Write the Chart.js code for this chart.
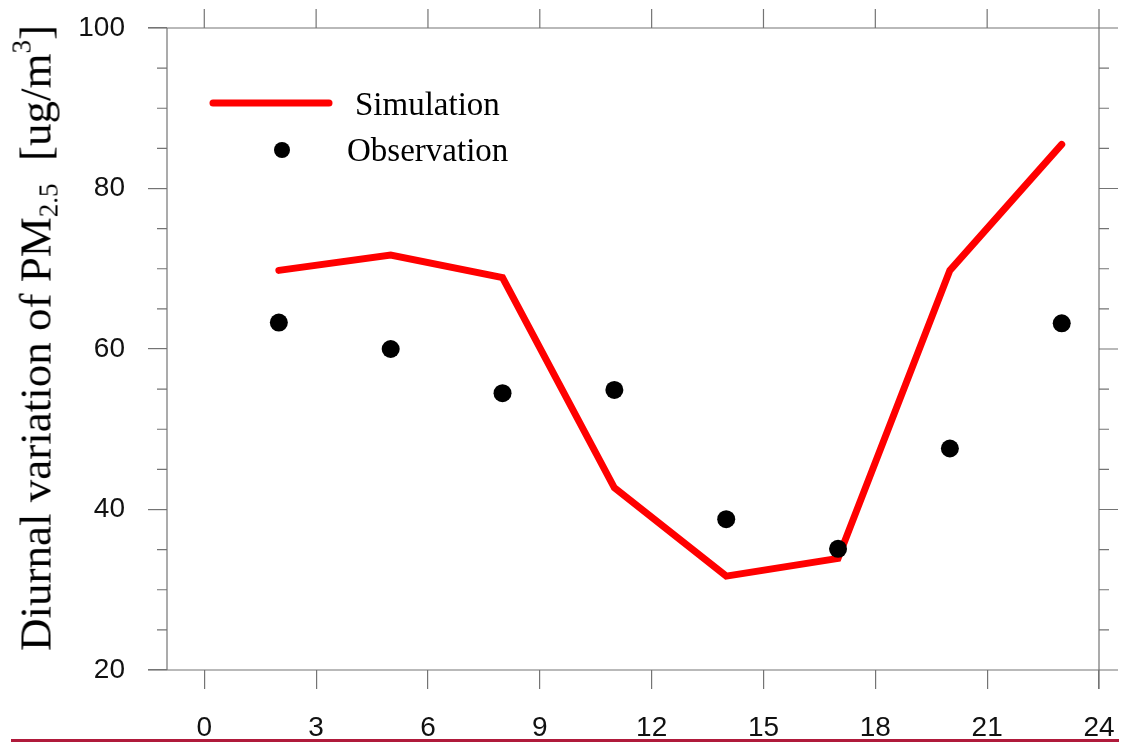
<!DOCTYPE html>
<html>
<head>
<meta charset="utf-8">
<script src="https://cdn.jsdelivr.net/npm/chart.js@4.4.1/dist/chart.umd.min.js"></script>
<style>
  html, body { margin: 0; padding: 0; background: #fff; }
  #wrap { position: relative; width: 1121px; height: 742px; overflow: hidden; }
  #yTitle {
    position: absolute; left: 36px; top: 338px;
    transform: translate(-50%, -50%) rotate(-90deg);
    font-family: 'Liberation Serif', 'Times New Roman', serif;
    font-size: 45px; line-height: 45px; white-space: nowrap; color: #000;
  }
  #yTitle sub { font-size: 27px; vertical-align: -7px; line-height: 0; }
  #yTitle sup { font-size: 27px; vertical-align: 20px; line-height: 0; }
  #redRule { position: absolute; left: 11px; right: 2px; top: 739px; height: 3px; background: #b01a3b; }
</style>
</head>
<body>
<div id="wrap">
  <canvas id="chart" width="1121" height="742"></canvas>
  <div id="yTitle">Diurnal variation of PM<sub>2.5</sub>&nbsp;&nbsp;[ug/m<sup>3</sup>]</div>
  <div id="redRule"></div>
</div>
<script>
// hours of the day (x), values in ug/m3
const hours = [2, 5, 8, 11, 14, 17, 20, 23];
const simulation = [69.8, 71.7, 68.9, 42.7, 31.7, 33.9, 69.8, 85.5];
const observation = [63.3, 60.0, 54.5, 54.9, 38.8, 35.1, 47.6, 63.2];

const xTicks = [0, 3, 6, 9, 12, 15, 18, 21, 24];
const yTicks = [20, 40, 60, 80, 100];
const yMinorStep = 5;

const AXIS_COLOR = '#747474';
const MAJOR_LEN = 19;
const MINOR_LEN = 10;

// frame + outward ticks on top/right, minor ticks on left/right
const framePlugin = {
  id: 'frame',
  afterDatasetsDraw(chart) {
    const { ctx, chartArea: a, scales: { x, y } } = chart;
    ctx.save();
    ctx.strokeStyle = AXIS_COLOR;
    ctx.lineWidth = 1.2;
    ctx.beginPath();
    // borders, extended by tick length like the original
    ctx.moveTo(a.left - MAJOR_LEN, a.top); ctx.lineTo(a.right, a.top);
    ctx.moveTo(a.right, a.top - MAJOR_LEN); ctx.lineTo(a.right, a.bottom + MAJOR_LEN);
    ctx.moveTo(a.left - MAJOR_LEN, a.bottom); ctx.lineTo(a.right + MAJOR_LEN, a.bottom);
    ctx.moveTo(a.left, a.top); ctx.lineTo(a.left, a.bottom);
    // top ticks
    xTicks.forEach(v => {
      const px = x.getPixelForValue(v);
      ctx.moveTo(px, a.top); ctx.lineTo(px, a.top - MAJOR_LEN);
    });
    // right major ticks
    yTicks.forEach(v => {
      const py = y.getPixelForValue(v);
      ctx.moveTo(a.right, py); ctx.lineTo(a.right + MAJOR_LEN, py);
    });
    // minor ticks on left and right
    for (let v = y.min; v <= y.max; v += yMinorStep) {
      if (yTicks.includes(v)) continue;
      const py = y.getPixelForValue(v);
      ctx.moveTo(a.left, py); ctx.lineTo(a.left - MINOR_LEN, py);
      ctx.moveTo(a.right, py); ctx.lineTo(a.right + MINOR_LEN, py);
    }
    ctx.stroke();
    ctx.restore();
  }
};

// legend drawn inside the plot
const legendPlugin = {
  id: 'innerLegend',
  afterDatasetsDraw(chart) {
    const { ctx } = chart;
    const sim = chart.data.datasets[0];
    const obs = chart.data.datasets[1];
    ctx.save();
    ctx.strokeStyle = sim.borderColor;
    ctx.lineWidth = 7;
    ctx.lineCap = 'round';
    ctx.beginPath();
    ctx.moveTo(213, 103); ctx.lineTo(329, 103);
    ctx.stroke();
    ctx.fillStyle = obs.backgroundColor;
    ctx.beginPath();
    ctx.arc(282, 150, 8, 0, Math.PI * 2);
    ctx.fill();
    ctx.fillStyle = '#000';
    ctx.font = '33px "Liberation Serif", "Times New Roman", serif';
    ctx.textBaseline = 'alphabetic';
    ctx.fillText(sim.label, 355, 115);
    ctx.fillText(obs.label, 347, 161);
    ctx.restore();
  }
};

new Chart(document.getElementById('chart'), {
  type: 'line',
  data: {
    datasets: [
      {
        label: 'Simulation',
        data: hours.map((h, i) => ({ x: h, y: simulation[i] })),
        borderColor: '#ff0000',
        borderWidth: 7,
        borderCapStyle: 'round',
        borderJoinStyle: 'miter',
        pointRadius: 0,
        tension: 0,
        order: 2
      },
      {
        label: 'Observation',
        type: 'scatter',
        data: hours.map((h, i) => ({ x: h, y: observation[i] })),
        backgroundColor: '#000',
        borderWidth: 0,
        pointRadius: 9,
        showLine: false,
        order: 1
      }
    ]
  },
  options: {
    responsive: false,
    animation: false,
    layout: { padding: { top: 28, right: 22, left: 0, bottom: 0 } },
    plugins: { legend: { display: false }, tooltip: { enabled: false } },
    scales: {
      x: {
        type: 'linear',
        min: -1,
        max: 24,
        afterBuildTicks: s => { s.ticks = xTicks.map(v => ({ value: v })); },
        afterFit: s => { s.height = 72; s.paddingLeft = 0; s.paddingRight = 0; },
        grid: { drawOnChartArea: false, drawTicks: true, tickLength: MAJOR_LEN, color: AXIS_COLOR, lineWidth: 1.2 },
        border: { display: false },
        ticks: { color: '#111', padding: 22, maxRotation: 0, font: { family: 'Liberation Sans', size: 28 } }
      },
      y: {
        min: 20,
        max: 100,
        afterBuildTicks: s => { s.ticks = yTicks.map(v => ({ value: v })); },
        afterFit: s => { s.width = 167; s.paddingTop = 0; s.paddingBottom = 0; },
        grid: { drawOnChartArea: false, drawTicks: true, tickLength: MAJOR_LEN, color: AXIS_COLOR, lineWidth: 1.2 },
        border: { display: false },
        ticks: { color: '#111', padding: 23, font: { family: 'Liberation Sans', size: 28 } }
      }
    }
  },
  plugins: [framePlugin, legendPlugin]
});
</script>
</body>
</html>
